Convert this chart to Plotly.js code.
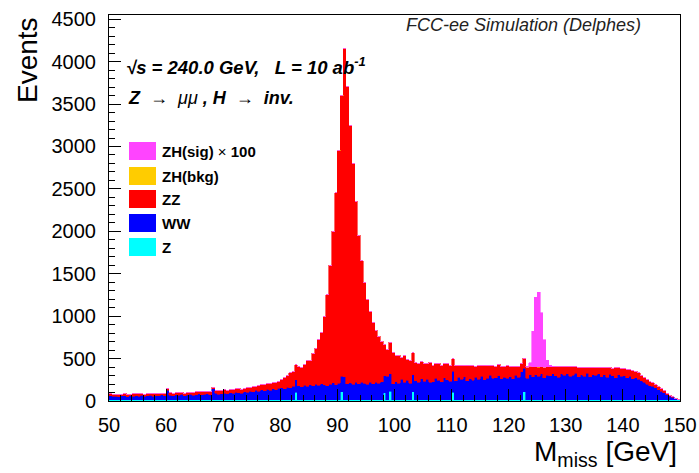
<!DOCTYPE html>
<html>
<head>
<meta charset="utf-8">
<script src="https://cdn.plot.ly/plotly-3.0.1.min.js"></script>
<style>html,body{margin:0;padding:0;background:#fff;}#plot{width:699px;height:473px;}</style>
</head>
<body>
<div id="plot"></div>
<script>
// Bin low edges: 50 to 149.5 GeV, 0.5 GeV bins (200 bins)
const binLow = 50, binWidth = 0.5, nBins = 200;

const zVals = [
14,14,14,14,14,14,14,14,14,14, 14,14,14,14,14,14,14,14,14,14,
14,14,14,14,14,14,14,14,14,14, 14,14,14,14,14,14,14,14,14,14,
14,14,14,14,14,14,14,14,14,14, 14,14,14,14,14,14,14,14,14,14,
14,14,14,14,14,105,14,14,14,14, 14,14,14,14,14,14,14,14,14,14,
14,110,14,14,14,14,14,14,14,14, 14,14,14,14,14,14,100,14,115,14,
14,14,14,14,14,14,110,14,14,14, 14,14,14,14,14,14,14,14,14,14,
105,14,14,14,14,14,14,14,14,14, 14,14,14,14,14,14,14,14,14,14,
14,14,14,14,14,110,14,14,14,14, 14,14,14,14,14,14,14,14,14,14,
14,14,14,14,14,14,14,14,14,14, 14,14,14,14,14,14,14,14,14,14,
14,14,14,14,14,14,14,14,14,14, 14,14,14,14,14,14,14,14,14,14
];

const wwVals = [
48,40,44,36,45,50,38,46,42,50, 44,52,40,47,55,43,50,46,58,48,
112,55,48,60,52,63,50,58,66,54, 62,70,58,66,72,60,130,75,64,72,
80,70,86,78,92,84,76,95,88,100, 96,110,102,118,108,125,115,130,120,138,
145,132,150,140,158,148,165,152,170,160, 175,168,182,172,190,178,165,185,200,178,
195,180,270,188,200,185,205,190,210,196, 185,205,192,210,198,215,200,280,205,190,
212,198,240,205,230,195,200,225,210,250, 220,240,206,212,255,230,212,260,235,218,
245,222,265,240,272,225,250,230,268,244, 275,238,256,290,252,262,285,248,268,255,
272,250,290,266,330,275,252,295,270,298, 280,305,260,290,282,310,285,265,305,288,
310,275,292,315,270,298,280,312,274,295, 288,310,272,295,268,300,284,262,298,276,
285,260,275,250,262,240,225,205,185,168, 160,140,120,100,82,62,42,28,14,3
];

const zzVals = [
22,28,18,25,20,26,24,18,27,22, 25,20,28,24,18,30,22,26,20,28,
20,30,26,22,32,25,28,34,24,30, 32,28,36,30,26,38,20,34,40,32,
38,45,35,48,40,52,46,42,55,48, 58,52,65,60,72,66,80,74,88,82,
93,126,138,178,175,177,223,226,248,308, 283,380,426,536,598,810,1073,1403,1788,2260,
2743,3310,3868,3500,3038,2603,2133,1748,1428,1192, 1003,833,716,608,550,473,370,308,370,368,
306,330,258,313,248,263,260,213,218,198, 205,190,235,198,170,200,195,165,192,188,
150,180,145,165,130,182,150,170,128,155, 130,168,145,110,150,128,132,145,125,145,
120,148,105,130,100,118,132,98,118,90, 105,82,125,98,108,80,102,122,85,100,
80,112,95,75,110,88,106,70,108,86, 92,68,105,82,110,86,90,115,80,92,
85,100,78,95,72,80,62,55,50,46, 42,38,32,28,22,18,12,8,4,0
];

const zhBkgVals = [
0,0,0,0,0,0,0,0,0,0, 0,0,0,0,0,0,0,0,0,0,
0,0,0,0,0,0,0,0,0,0, 0,0,0,0,0,0,0,0,0,0,
0,0,0,0,0,0,0,0,0,0, 0,0,0,0,0,0,0,0,0,0,
0,0,0,0,0,0,0,0,0,0, 0,0,0,0,0,0,0,0,1,1,
1,2,2,1,1,1,0,0,0,0, 0,0,0,0,0,0,0,0,0,0,
0,0,0,0,0,0,0,0,0,0, 0,0,0,0,0,0,0,0,0,0,
0,0,0,0,0,0,0,0,0,0, 0,0,0,0,0,0,0,0,0,0,
0,0,0,0,0,0,1,1,2,3, 3,2,1,1,0,0,0,0,0,0,
0,0,0,0,0,0,0,0,0,0, 0,0,0,0,0,0,0,0,0,0,
0,0,0,0,0,0,0,0,0,0, 0,0,0,0,0,0,0,0,0,0
];

const zhSigVals = [
0,0,0,0,0,0,0,0,0,0, 0,0,0,0,0,0,0,0,0,0,
0,0,0,0,0,0,0,0,0,0, 0,0,0,0,0,0,0,0,0,0,
0,0,0,0,0,0,0,0,0,0, 0,0,0,0,0,0,0,0,0,0,
0,0,0,0,0,0,0,0,0,0, 0,0,0,0,0,0,0,0,0,0,
0,0,0,0,0,0,0,0,0,0, 0,0,0,0,0,0,0,0,0,0,
0,0,0,0,0,0,0,0,0,0, 0,0,0,0,0,0,0,0,0,0,
0,0,0,0,0,0,0,0,0,0, 0,0,0,0,0,0,0,0,0,0,
0,0,0,0,0,0,10,40,420,820, 880,640,320,80,20,8,0,0,0,0,
0,0,0,0,0,0,0,0,0,0, 0,0,0,0,0,0,0,0,0,0,
0,0,0,0,0,0,0,0,0,0, 0,0,0,0,0,0,0,0,0,0
];

const seriesNames = ['Z', 'WW', 'ZZ', 'ZH(bkg)', 'ZH(sig) × 100'];
const seriesColors = ['#00ffff', '#0000ff', '#ff0000', '#ffcc00', '#ff44ff'];
const seriesVals = [zVals, wwVals, zzVals, zhBkgVals, zhSigVals];

const xCenters = [];
for (let i = 0; i < nBins; i++) xCenters.push(binLow + binWidth * (i + 0.5));

const traces = seriesVals.map((vals, k) => ({
  type: 'bar',
  x: xCenters,
  y: vals,
  width: binWidth,
  name: seriesNames[k],
  marker: {color: seriesColors[k], line: {width: 0.6, color: seriesColors[k]}},
  hoverinfo: 'skip'
}));

const L = 109, R = 680, T = 15, B = 401, W = 699, H = 473;
const px = v => (v - L) / (R - L);
const py = v => (B - v) / (B - T);

const FONT = 'Liberation Sans, Arial, Helvetica, sans-serif';

// legend (top to bottom)
const legOrder = [4, 3, 2, 1, 0];
const legBoxTop = [142, 167, 190, 214, 238];
const legBoxH = 18;
const shapes = [];
const annotations = [];
legOrder.forEach((k, j) => {
  shapes.push({type: 'rect', xref: 'paper', yref: 'paper',
    x0: px(129), x1: px(156), y0: py(legBoxTop[j] + legBoxH), y1: py(legBoxTop[j]),
    fillcolor: seriesColors[k], line: {width: 0}});
  annotations.push({xref: 'paper', yref: 'paper', x: px(160), y: py(legBoxTop[j] + legBoxH / 2),
    xanchor: 'left', yanchor: 'middle', showarrow: false,
    text: k === 4 ? '<b>ZH(sig)</b> × <b>100</b>' : '<b>' + seriesNames[k] + '</b>',
    font: {family: FONT, size: 15, color: '#000'}});
});

annotations.push({xref: 'paper', yref: 'paper', x: px(643), y: py(25), xanchor: 'right', yanchor: 'middle',
  showarrow: false, text: '<i>FCC-ee Simulation (Delphes)</i>', font: {family: FONT, size: 18, color: '#222'}});
annotations.push({xref: 'paper', yref: 'paper', x: px(124), y: py(66), xanchor: 'left', yanchor: 'middle',
  showarrow: false, text: '<b><i>√s = 240.0 GeV,   L = 10 ab<sup>-1</sup></i></b>', font: {family: FONT, size: 18.5, color: '#000'}});
annotations.push({xref: 'paper', yref: 'paper', x: px(126), y: py(98), xanchor: 'left', yanchor: 'middle',
  showarrow: false, text: '<b><i>Z</i></b>  →  <i>μμ</i><b><i> , H</i></b>  →  <b><i>inv.</i></b>', font: {family: FONT, size: 18, color: '#000'}});
annotations.push({xref: 'paper', yref: 'paper', x: px(27), y: 1, xanchor: 'center', yanchor: 'top',
  showarrow: false, textangle: -90, text: 'Events', font: {family: FONT, size: 28, color: '#000'}});
annotations.push({xref: 'paper', yref: 'paper', x: px(679), y: py(473), xanchor: 'right', yanchor: 'bottom',
  showarrow: false, text: 'M<sub>miss</sub> [GeV]', font: {family: FONT, size: 28, color: '#000'}});

const layout = {
  width: W, height: H,
  margin: {l: L, r: W - R, t: T, b: H - B, pad: 0},
  paper_bgcolor: '#fff', plot_bgcolor: '#fff',
  barmode: 'stack', bargap: 0,
  showlegend: false,
  xaxis: {
    range: [50, 150], tickmode: 'linear', tick0: 50, dtick: 10,
    ticks: 'inside', ticklen: 12, tickwidth: 1, tickcolor: '#000',
    minor: {ticks: 'inside', dtick: 2, ticklen: 6, tickwidth: 1, tickcolor: '#000', showgrid: false},
    showgrid: false, zeroline: false, showline: true, mirror: true, linecolor: '#000', linewidth: 1,
    tickfont: {family: FONT, size: 20, color: '#000'}, ticklabelstandoff: 6
  },
  yaxis: {
    range: [0, 4550], tickmode: 'linear', tick0: 0, dtick: 500,
    ticks: 'inside', ticklen: 12, tickwidth: 1, tickcolor: '#000',
    minor: {ticks: 'inside', dtick: 100, ticklen: 6, tickwidth: 1, tickcolor: '#000', showgrid: false},
    showgrid: false, zeroline: false, showline: true, mirror: true, linecolor: '#000', linewidth: 1,
    tickfont: {family: FONT, size: 20, color: '#000'}, ticklabelstandoff: 8
  },
  shapes: shapes,
  annotations: annotations
};

Plotly.newPlot('plot', traces, layout, {displayModeBar: false, staticPlot: true});
</script>
</body>
</html>
